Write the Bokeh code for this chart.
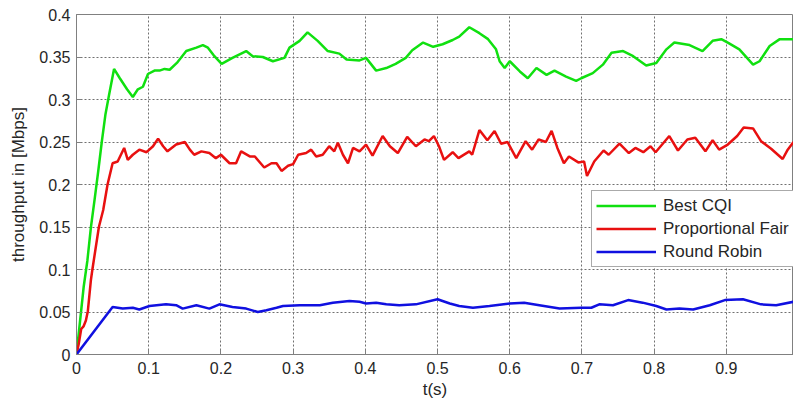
from bokeh.plotting import figure
from bokeh.models import Legend, LegendItem, FixedTicker
from bokeh.embed import file_html
from bokeh.resources import INLINE

# ---- data ----
t_cqi = [0.000, 0.005, 0.010, 0.015, 0.020, 0.025, 0.030, 0.035, 0.040, 0.045,
         0.052, 0.060, 0.070, 0.078, 0.085, 0.092, 0.099, 0.108, 0.115, 0.122,
         0.129, 0.139, 0.152, 0.166, 0.175, 0.182, 0.190, 0.201, 0.216, 0.235,
         0.244, 0.258, 0.272, 0.288, 0.295, 0.309, 0.320, 0.334, 0.348, 0.364,
         0.374, 0.392, 0.401, 0.415, 0.429, 0.442, 0.456, 0.465, 0.480, 0.494,
         0.507, 0.521, 0.530, 0.544, 0.558, 0.570, 0.581, 0.586, 0.593, 0.600,
         0.614, 0.625, 0.637, 0.651, 0.662, 0.678, 0.692, 0.699, 0.715, 0.729,
         0.741, 0.757, 0.771, 0.789, 0.803, 0.817, 0.828, 0.849, 0.867, 0.881,
         0.893, 0.902, 0.918, 0.937, 0.946, 0.960, 0.974, 0.993]
best_cqi = [0.000, 0.040, 0.080, 0.110, 0.150, 0.182, 0.215, 0.250, 0.282, 0.305,
            0.336, 0.325, 0.312, 0.303, 0.312, 0.315, 0.330, 0.334, 0.334, 0.336,
            0.335, 0.343, 0.357, 0.361, 0.364, 0.361, 0.352, 0.342, 0.349, 0.357,
            0.351, 0.350, 0.345, 0.349, 0.361, 0.369, 0.379, 0.369, 0.357, 0.354,
            0.347, 0.346, 0.349, 0.334, 0.337, 0.342, 0.349, 0.358, 0.367, 0.362,
            0.365, 0.370, 0.374, 0.385, 0.378, 0.371, 0.359, 0.345, 0.337, 0.345,
            0.333, 0.325, 0.337, 0.329, 0.334, 0.327, 0.322, 0.325, 0.331, 0.341,
            0.355, 0.357, 0.351, 0.340, 0.343, 0.359, 0.367, 0.364, 0.357, 0.369,
            0.371, 0.367, 0.359, 0.341, 0.345, 0.363, 0.371, 0.371]

t_pf = [0.000, 0.003, 0.0065, 0.0097, 0.013, 0.0157, 0.020, 0.022, 0.031, 0.037,
        0.043, 0.050, 0.057, 0.066, 0.071, 0.078, 0.087, 0.097, 0.106, 0.113,
        0.120, 0.126, 0.138, 0.150, 0.157, 0.163, 0.173, 0.184, 0.193, 0.200,
        0.212, 0.221, 0.228, 0.240, 0.247, 0.260, 0.270, 0.277, 0.284, 0.293,
        0.300, 0.307, 0.318, 0.325, 0.332, 0.341, 0.350, 0.357, 0.362, 0.369,
        0.376, 0.383, 0.392, 0.401, 0.410, 0.424, 0.434, 0.445, 0.458, 0.470,
        0.482, 0.488, 0.495, 0.502, 0.509, 0.521, 0.529, 0.544, 0.548, 0.558,
        0.569, 0.579, 0.588, 0.597, 0.609, 0.622, 0.631, 0.640, 0.650, 0.658,
        0.666, 0.675, 0.682, 0.695, 0.703, 0.707, 0.717, 0.730, 0.737, 0.752,
        0.765, 0.774, 0.785, 0.795, 0.802, 0.821, 0.833, 0.846, 0.857, 0.871,
        0.881, 0.890, 0.902, 0.915, 0.924, 0.937, 0.948, 0.962, 0.978, 0.985,
        0.993]
prop_fair = [0.000, 0.012, 0.030, 0.033, 0.040, 0.051, 0.088, 0.100, 0.150, 0.170,
             0.200, 0.225, 0.227, 0.243, 0.229, 0.235, 0.241, 0.238, 0.245, 0.254,
             0.245, 0.239, 0.247, 0.250, 0.241, 0.235, 0.239, 0.237, 0.231, 0.235,
             0.225, 0.225, 0.239, 0.233, 0.233, 0.220, 0.225, 0.225, 0.216, 0.222,
             0.224, 0.235, 0.237, 0.241, 0.233, 0.235, 0.245, 0.239, 0.249, 0.235,
             0.225, 0.243, 0.239, 0.247, 0.234, 0.257, 0.245, 0.237, 0.256, 0.245,
             0.253, 0.251, 0.257, 0.245, 0.229, 0.238, 0.231, 0.239, 0.235, 0.264,
             0.252, 0.263, 0.248, 0.250, 0.231, 0.251, 0.241, 0.253, 0.250, 0.263,
             0.243, 0.225, 0.233, 0.226, 0.227, 0.210, 0.227, 0.240, 0.235, 0.248,
             0.237, 0.243, 0.238, 0.245, 0.238, 0.257, 0.240, 0.253, 0.255, 0.239,
             0.252, 0.241, 0.247, 0.257, 0.267, 0.266, 0.251, 0.242, 0.230, 0.241,
             0.250]

t_rr = [0.000, 0.050, 0.064, 0.078, 0.087, 0.101, 0.124, 0.138, 0.147, 0.166,
        0.184, 0.198, 0.216, 0.235, 0.251, 0.263, 0.277, 0.286, 0.309, 0.337,
        0.355, 0.378, 0.392, 0.401, 0.415, 0.429, 0.447, 0.470, 0.500, 0.517,
        0.530, 0.549, 0.572, 0.600, 0.620, 0.641, 0.669, 0.699, 0.713, 0.724,
        0.743, 0.764, 0.784, 0.803, 0.817, 0.835, 0.854, 0.877, 0.898, 0.923,
        0.948, 0.969, 0.993]
round_robin = [0.000, 0.056, 0.054, 0.055, 0.053, 0.057, 0.059, 0.058, 0.054, 0.058,
               0.054, 0.059, 0.056, 0.054, 0.050, 0.052, 0.055, 0.057, 0.058, 0.058,
               0.061, 0.063, 0.062, 0.060, 0.061, 0.059, 0.058, 0.059, 0.065, 0.060,
               0.057, 0.055, 0.057, 0.060, 0.061, 0.058, 0.054, 0.055, 0.055, 0.059,
               0.058, 0.064, 0.061, 0.057, 0.053, 0.054, 0.053, 0.058, 0.064, 0.065,
               0.059, 0.058, 0.062]

series_names = ["Best CQI", "Proportional Fair", "Round Robin"]
series_colors = ["#10e010", "#e81010", "#1010e0"]

x_ticks = [0, 0.1, 0.2, 0.3, 0.4, 0.5, 0.6, 0.7, 0.8, 0.9]
x_tick_labels = ["0", "0.1", "0.2", "0.3", "0.4", "0.5", "0.6", "0.7", "0.8", "0.9"]
y_ticks = [0, 0.05, 0.1, 0.15, 0.2, 0.25, 0.3, 0.35, 0.4]
y_tick_labels = ["0", "0.05", "0.1", "0.15", "0.2", "0.25", "0.3", "0.35", "0.4"]

FONT = "Liberation Sans"
TXT = "#262626"
AX = "#808080"

p = figure(frame_width=717, frame_height=340,
           x_range=(0, 0.993), y_range=(0, 0.4),
           output_backend="svg", toolbar_location=None,
           min_border_left=76, min_border_right=0,
           min_border_top=14, min_border_bottom=49,
           background_fill_color="white", border_fill_color="white")

p.outline_line_color = AX
p.outline_line_width = 1

for ax in (p.xaxis[0], p.yaxis[0]):
    ax.axis_line_color = AX
    ax.major_tick_line_color = AX
    ax.major_tick_in = 5
    ax.major_tick_out = 0
    ax.minor_tick_line_color = None
    ax.major_label_text_font = FONT
    ax.major_label_text_font_size = "16px"
    ax.major_label_text_color = TXT
    ax.axis_label_text_font = FONT
    ax.axis_label_text_font_size = "17px"
    ax.axis_label_text_font_style = "normal"
    ax.axis_label_text_color = TXT

p.xaxis.ticker = FixedTicker(ticks=x_ticks)
p.xaxis.major_label_overrides = dict(zip(x_ticks, x_tick_labels))
p.yaxis.ticker = FixedTicker(ticks=y_ticks)
p.yaxis.major_label_overrides = dict(zip(y_ticks, y_tick_labels))
p.xaxis.axis_label = "t(s)"
p.yaxis.axis_label = "throughput in [Mbps]"
p.xaxis.major_label_standoff = 7
p.xaxis.axis_label_standoff = 3
p.yaxis.major_label_standoff = 6
p.yaxis.axis_label_standoff = 8

for g in (p.xgrid, p.ygrid):
    g.grid_line_color = "#707070"
    g.grid_line_dash = "2 2"
    g.grid_line_width = 1

xs = [t_cqi, t_pf, t_rr]
ys = [best_cqi, prop_fair, round_robin]
items = []
for name, col, x, y in zip(series_names, series_colors, xs, ys):
    r = p.line(x, y, line_color=col, line_width=2.5)
    items.append(LegendItem(label=name, renderers=[r]))

legend = Legend(items=items, location=(515, 87), margin=0,
                padding=4, spacing=2, label_height=21, glyph_height=21,
                glyph_width=60, label_standoff=7,
                label_text_font=FONT, label_text_font_size="17px",
                label_text_color=TXT,
                border_line_color="#555555", border_line_width=1,
                background_fill_color="white", background_fill_alpha=1)
p.add_layout(legend)

open("out.html", "w").write(file_html(p, INLINE))
